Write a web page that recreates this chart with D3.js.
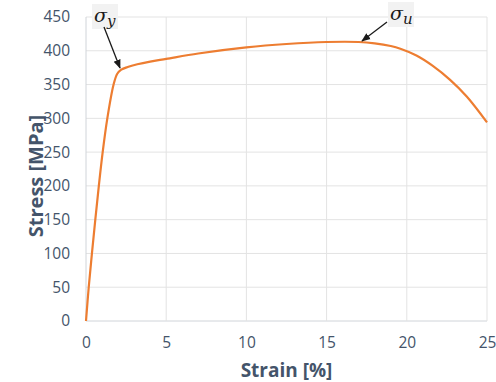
<!DOCTYPE html>
<html>
<head>
<meta charset="utf-8">
<script src="https://cdn.jsdelivr.net/npm/d3@7"></script>
<style>
  body { margin: 0; background: #fff; }
  text { font-family: "Open Sans", "Noto Sans", sans-serif; }
</style>
</head>
<body>
<svg class="chart" width="496" height="382"></svg>
<script>
// strain [%] vs stress [MPa]
var strain = [0, 0.17, 0.37, 0.58, 0.8, 1.04, 1.33, 1.72, 1.95, 2.2, 2.6, 3.2, 4, 5, 7, 10, 12.5, 15, 17, 18, 19, 19.6, 20.6, 21.6, 22.7, 23.75, 25];
var stress = [0, 50, 100, 150, 200, 250, 300, 350, 366, 372, 376, 380, 384, 388, 396, 405, 410, 413, 413, 411, 407, 403, 393, 378, 357, 332, 294];
var xTicks = [0, 5, 10, 15, 20, 25];
var yTicks = [0, 50, 100, 150, 200, 250, 300, 350, 400, 450];

var width = 496,
    height = 382;
var margin = {left: 86, right: 9, top: 17, bottom: 61};

var chart = d3.select(".chart")
    .attr("width", width)
    .attr("height", height);

var x = d3.scaleLinear().domain([0, 25]).range([margin.left, width - margin.right]);
var y = d3.scaleLinear().domain([0, 450]).range([height - margin.bottom, margin.top]);

var textColor = "#44546a";

// gridlines
chart.append("g")
  .selectAll("line.h")
  .data(yTicks)
  .enter().append("line")
    .attr("x1", x(0)).attr("x2", x(25))
    .attr("y1", function(d) { return y(d); })
    .attr("y2", function(d) { return y(d); })
    .attr("stroke", function(d) { return d == 0 ? "#d0d4d9" : "#e3e3e3"; })
    .attr("stroke-width", 1);

chart.append("g")
  .selectAll("line.v")
  .data(xTicks)
  .enter().append("line")
    .attr("y1", y(0)).attr("y2", y(450))
    .attr("x1", function(d) { return x(d); })
    .attr("x2", function(d) { return x(d); })
    .attr("stroke", function(d) { return d == 0 ? "#d0d4d9" : "#e3e3e3"; })
    .attr("stroke-width", 1);

// axes (labels only)
chart.append("g")
    .attr("transform", "translate(0," + y(0) + ")")
    .call(d3.axisBottom(x).tickValues(xTicks).tickSize(0).tickPadding(16));
chart.append("g")
    .attr("transform", "translate(" + x(0) + ",0)")
    .call(d3.axisLeft(y).tickValues(yTicks).tickSize(0).tickPadding(16));
chart.selectAll(".domain").remove();
chart.selectAll(".tick text")
    .attr("fill", textColor)
    .style("font-size", "15.5px")
    .style("font-family", "'Open Sans', sans-serif");

// curve
var line = d3.line()
    .x(function(d, i) { return x(strain[i]); })
    .y(function(d, i) { return y(stress[i]); })
    .curve(d3.curveCatmullRom.alpha(0.5));

chart.append("path")
    .datum(stress)
    .attr("d", line)
    .attr("fill", "none")
    .attr("stroke", "#ed7d31")
    .attr("stroke-width", 2.2);

// axis titles
chart.append("text")
    .attr("x", (x(0) + x(25)) / 2)
    .attr("y", 377)
    .attr("text-anchor", "middle")
    .attr("fill", textColor)
    .style("font-size", "19px")
    .style("font-weight", "bold")
    .text("Strain [%]");

chart.append("text")
    .attr("transform", "translate(43,176) rotate(-90)")
    .attr("text-anchor", "middle")
    .attr("fill", textColor)
    .style("font-size", "20px")
    .style("font-weight", "bold")
    .text("Stress [MPa]");

// annotations
chart.append("defs").append("marker")
    .attr("id", "arrow")
    .attr("viewBox", "0 0 10 10")
    .attr("refX", 9).attr("refY", 5)
    .attr("markerWidth", 7).attr("markerHeight", 7)
    .attr("orient", "auto")
  .append("path")
    .attr("d", "M0,1 L10,5 L0,9 Z")
    .attr("fill", "#1a1a1a");

var notes = [
  {sym: "σ", sub: "y", bx: 92, by: 4, tx: 104, ty: 27, ax: 120, ay: 68},
  {sym: "σ", sub: "u", bx: 388, by: 2, tx: 387, ty: 22, ax: 362, ay: 41}
];

notes.forEach(function(n) {
  chart.append("rect")
    .attr("x", n.bx).attr("y", n.by)
    .attr("width", 26).attr("height", 25)
    .attr("fill", "#f2f2f2");
  chart.append("line")
    .attr("x1", n.tx).attr("y1", n.ty)
    .attr("x2", n.ax).attr("y2", n.ay)
    .attr("stroke", "#1a1a1a")
    .attr("stroke-width", 1.3)
    .attr("marker-end", "url(#arrow)");
  var t = chart.append("text")
    .attr("x", n.bx + 2).attr("y", n.by + 18)
    .attr("fill", "#1a1a1a")
    .style("font-family", "'DejaVu Serif', serif")
    .style("font-style", "italic")
    .style("font-size", "19px");
  t.append("tspan").text(n.sym);
  t.append("tspan").attr("dy", 4).style("font-size", "15px").text(n.sub);
});
</script>
</body>
</html>
